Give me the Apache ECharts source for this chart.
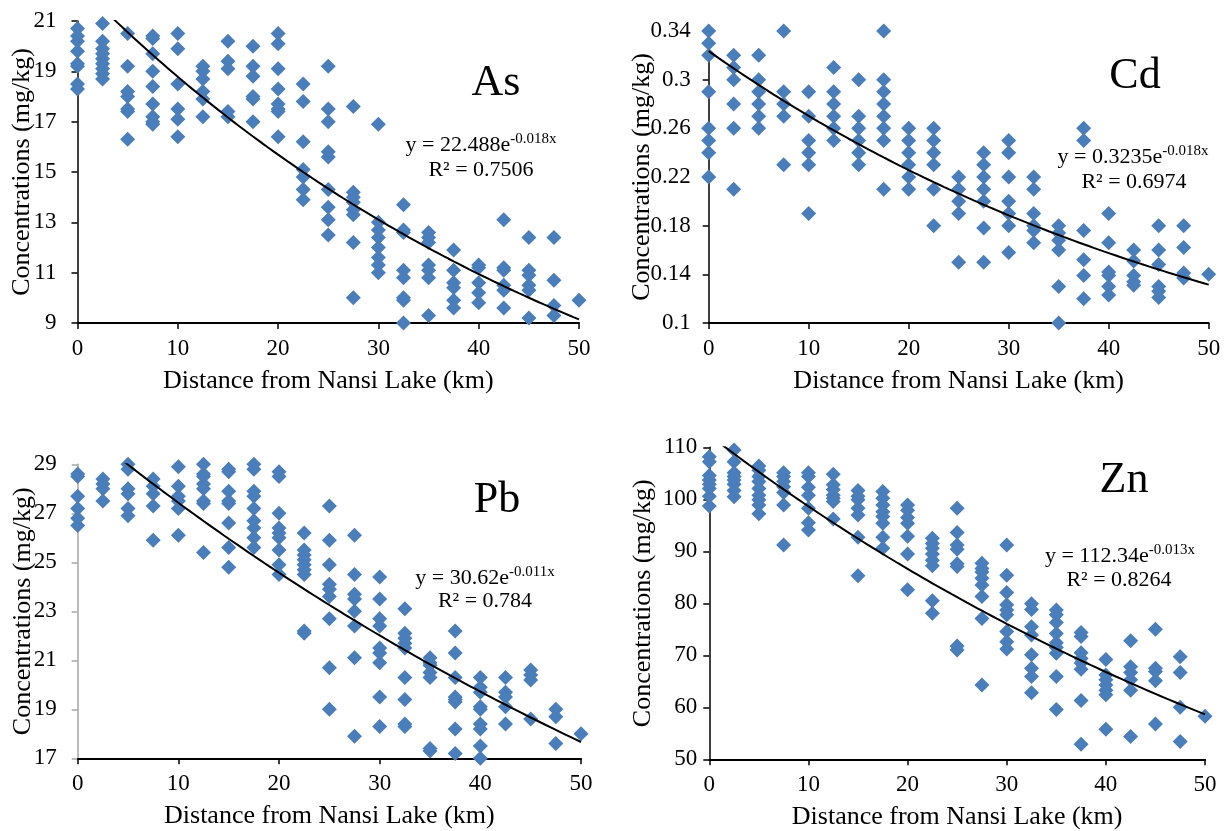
<!DOCTYPE html>
<html>
<head>
<meta charset="utf-8">
<script src="https://cdn.jsdelivr.net/npm/echarts@6/dist/echarts.min.js"></script>
<style>
html,body{margin:0;padding:0;background:#fff;}
#c{width:1229px;height:831px;}
</style>
</head>
<body>
<div id="c"></div>
<script>
// ---- data ----
const distances = [0, 2.5, 5, 7.5, 10, 12.5, 15, 17.5, 20, 22.5, 25, 27.5, 30, 32.5, 35, 37.5, 40, 42.5, 45, 47.5, 50];
const xTicks = [0, 10, 20, 30, 40, 50];

const asVals = [
 [20.7, 20.4, 20.2, 19.8, 19.3, 19.2, 18.5, 18.3],
 [20.9, 20.2, 19.9, 19.7, 19.5, 19.3, 19.1, 18.9, 18.7],
 [20.5, 19.2, 18.2, 18.0, 17.5, 17.4, 16.3],
 [20.4, 20.3, 19.7, 19.0, 18.4, 17.7, 17.2, 17.0, 16.9],
 [20.5, 19.9, 18.5, 17.5, 17.1, 16.4],
 [19.2, 19.0, 18.7, 18.2, 17.9, 17.2],
 [20.2, 19.4, 19.1, 17.4, 17.2],
 [20.0, 19.2, 18.8, 18.0, 17.9, 17.0],
 [20.5, 20.1, 19.1, 18.3, 17.7, 17.5, 17.4, 16.4],
 [18.5, 17.8, 16.2, 15.1, 14.8, 14.3, 13.9],
 [19.2, 17.5, 17.0, 15.8, 15.6, 14.3, 13.6, 13.1, 12.5],
 [17.6, 14.2, 14.0, 13.8, 13.5, 13.3, 12.2, 10.0],
 [16.9, 13.0, 12.7, 12.4, 12.0, 11.6, 11.3, 11.0],
 [13.7, 12.7, 12.6, 11.1, 10.8, 10.0, 9.9, 9.0],
 [12.6, 12.4, 12.2, 11.3, 11.1, 10.8, 9.3],
 [11.9, 11.1, 10.6, 10.4, 9.9, 9.6],
 [11.3, 11.2, 10.6, 10.2, 9.8],
 [13.1, 11.2, 11.1, 10.5, 10.3, 9.6],
 [12.4, 11.1, 10.9, 10.5, 10.3, 9.2],
 [12.4, 10.7, 9.7, 9.3],
 [9.9]
];
const cdVals = [
 [0.34, 0.33, 0.32, 0.29, 0.26, 0.25, 0.24, 0.22],
 [0.32, 0.31, 0.30, 0.28, 0.26, 0.21],
 [0.32, 0.30, 0.29, 0.28, 0.27, 0.26],
 [0.34, 0.29, 0.28, 0.27, 0.23],
 [0.29, 0.27, 0.25, 0.24, 0.23, 0.19],
 [0.31, 0.29, 0.28, 0.27, 0.26, 0.25],
 [0.30, 0.27, 0.26, 0.25, 0.24, 0.23],
 [0.34, 0.30, 0.29, 0.28, 0.27, 0.26, 0.25, 0.21],
 [0.26, 0.25, 0.24, 0.23, 0.22, 0.21],
 [0.26, 0.25, 0.24, 0.23, 0.21, 0.18],
 [0.22, 0.21, 0.20, 0.19, 0.15],
 [0.24, 0.23, 0.22, 0.21, 0.20, 0.178, 0.15],
 [0.25, 0.24, 0.22, 0.20, 0.19, 0.18, 0.158],
 [0.22, 0.21, 0.19, 0.18, 0.176, 0.166],
 [0.18, 0.174, 0.168, 0.16, 0.13, 0.10],
 [0.26, 0.25, 0.176, 0.152, 0.139, 0.12],
 [0.19, 0.166, 0.142, 0.139, 0.13, 0.123],
 [0.16, 0.151, 0.139, 0.134, 0.131],
 [0.18, 0.16, 0.148, 0.13, 0.126, 0.121],
 [0.18, 0.162, 0.141, 0.137],
 [0.14]
];
const pbVals = [
 [28.6, 28.5, 27.7, 27.2, 26.8, 26.5],
 [28.4, 28.2, 28.0, 27.5],
 [29.0, 28.8, 28.0, 27.8, 27.2, 26.9],
 [28.4, 28.1, 27.8, 27.3, 25.9],
 [28.9, 28.1, 27.7, 27.5, 27.2, 26.1],
 [29.0, 28.6, 28.5, 28.2, 28.0, 27.5, 27.4, 25.4],
 [28.8, 28.7, 27.9, 27.5, 27.4, 26.6, 25.6, 24.8],
 [29.0, 28.8, 27.9, 27.7, 27.2, 26.7, 26.4, 26.0, 25.6],
 [28.7, 28.5, 27.0, 26.4, 26.2, 26.0, 25.5, 24.9, 24.5],
 [26.2, 25.5, 25.3, 25.1, 24.9, 24.7, 24.5, 22.2, 22.1],
 [27.3, 25.9, 24.9, 24.1, 23.9, 23.6, 22.7, 20.7, 19.0],
 [26.1, 24.5, 23.7, 23.5, 23.0, 22.4, 21.1, 17.9],
 [24.4, 23.5, 22.7, 22.4, 21.5, 21.3, 20.9, 19.5, 18.3],
 [23.1, 22.1, 21.9, 21.7, 21.5, 20.3, 19.4, 18.4, 18.3],
 [21.1, 20.9, 20.8, 20.5, 20.3, 17.4, 17.3],
 [22.2, 21.3, 20.3, 19.5, 19.4, 19.3, 18.2, 17.2],
 [20.3, 19.9, 19.7, 19.1, 19.0, 18.4, 18.2, 17.5, 17.0],
 [20.3, 19.7, 19.5, 19.1, 18.4],
 [20.6, 20.4, 20.2, 18.6],
 [19.0, 18.7, 17.6],
 [18.0]
];
const znVals = [
 [108.2, 107.2, 104.6, 103.7, 102.9, 102.1, 100.6, 98.7],
 [109.5, 107.2, 105.1, 104.4, 103.7, 102.9, 101.7, 100.5],
 [106.4, 105.6, 104.4, 103.4, 102.1, 100.8, 99.9, 98.9, 97.2],
 [105.1, 104.4, 103.4, 102.4, 101.3, 98.9, 91.2],
 [105.1, 104.4, 102.3, 100.8, 98.3, 95.5, 94.1],
 [104.8, 102.8, 101.9, 100.8, 100.2, 99.6, 96.2],
 [101.7, 100.6, 99.9, 98.3, 97.0, 92.7, 85.3],
 [101.5, 100.2, 98.9, 97.6, 96.7, 95.4, 92.7, 90.6],
 [98.9, 97.9, 96.5, 95.4, 92.9, 89.5, 82.6],
 [92.5, 91.5, 90.6, 89.5, 88.3, 87.2, 80.5, 78.1],
 [98.3, 93.6, 91.2, 90.4, 87.6, 87.1, 71.8, 71.0],
 [87.7, 86.7, 86.0, 84.8, 83.5, 81.3, 77.1, 64.3],
 [91.2, 85.4, 82.1, 79.7, 78.7, 77.8, 74.6, 72.6, 71.2],
 [79.9, 78.8, 75.5, 73.9, 70.1, 67.5, 65.9, 62.8],
 [78.7, 77.8, 76.3, 74.2, 72.4, 71.5, 70.4, 65.9, 59.6],
 [74.4, 73.6, 70.5, 69.4, 68.5, 67.3, 61.3, 52.9],
 [69.2, 66.2, 65.3, 64.3, 63.3, 62.4, 55.8],
 [72.8, 67.8, 66.7, 65.3, 63.3, 54.4],
 [75.0, 67.5, 66.9, 65.1, 56.8],
 [69.7, 66.7, 60.0, 53.4],
 [58.3]
];

// y tick labels
const asTicks = [9, 11, 13, 15, 17, 19, 21];
const cdTicks = [0.1, 0.14, 0.18, 0.22, 0.26, 0.3, 0.34];
const pbTicks = [17, 19, 21, 23, 25, 27, 29];
const znTicks = [50, 60, 70, 80, 90, 100, 110];

// exponential trendline coefficients (a, b) of y = a*e^(b*x), and R²
const asFit = [22.488, -0.018];
const cdFit = [0.3235, -0.018];
const pbFit = [30.62, -0.011];
const znFit = [112.34, -0.013];
const panelNames = ['As', 'Cd', 'Pb', 'Zn'];
const eqMain = ['y = 22.488e', 'y = 0.3235e', 'y = 30.62e', 'y = 112.34e'];
const eqExp = ['-0.018x', '-0.018x', '-0.011x', '-0.013x'];
const r2Text = ['R² = 0.7506', 'R² = 0.6974', 'R² = 0.784', 'R² = 0.8264'];

// ---- layout/styles ----
const FONT = '"Liberation Serif", "Times New Roman", serif';
const panels = [
  {vals: asVals, ticks: asTicks, fit: asFit, grid: {left: 77.5, top: 21, width: 501.5, height: 302}, yColor: '#000', labelMargin: 21, nameGap: 42,
   title: [496, 83], eq: [481, 145], r2: [481, 170]},
  {vals: cdVals, ticks: cdTicks, fit: cdFit, grid: {left: 708.7, top: 31, width: 500, height: 292}, yColor: '#000', labelMargin: 18, nameGap: 54,
   title: [1135, 76], eq: [1133, 157], r2: [1134, 182]},
  {vals: pbVals, ticks: pbTicks, fit: pbFit, grid: {left: 77.7, top: 464.3, width: 503.3, height: 294}, yColor: '#a6a6a6', labelMargin: 21, nameGap: 42,
   title: [497, 500], eq: [485, 578], r2: [485, 601]},
  {vals: znVals, ticks: znTicks, fit: znFit, grid: {left: 709.3, top: 447.3, width: 495.7, height: 312}, yColor: '#000', labelMargin: 12, nameGap: 53,
   title: [1124, 480], eq: [1120, 556], r2: [1119, 580]}
];

const grids = [], xAxes = [], yAxes = [], series = [], graphics = [];
panels.forEach((p, i) => {
  grids.push(Object.assign({outerBoundsMode: 'none', containLabel: false}, p.grid));
  xAxes.push({
    type: 'value', gridIndex: i, min: 0, max: 50, interval: 10,
    name: 'Distance from Nansi Lake (km)', nameLocation: 'middle', nameGap: 45, nameMoveOverlap: false,
    nameTextStyle: {fontFamily: FONT, fontSize: 26, color: '#000'},
    axisLine: {show: true, onZero: false, lineStyle: {color: '#000', width: 2}},
    axisTick: {show: true, inside: false, length: 6, lineStyle: {color: '#000', width: 1.5}},
    axisLabel: {fontFamily: FONT, fontSize: 23, color: '#000', margin: 14},
    splitLine: {show: false}
  });
  const lo = p.ticks[0], hi = p.ticks[p.ticks.length - 1];
  yAxes.push({
    type: 'value', gridIndex: i, min: lo, max: hi,
    name: 'Concentrations (mg/kg)', nameLocation: 'middle', nameGap: p.nameGap, nameMoveOverlap: false,
    nameTextStyle: {fontFamily: FONT, fontSize: 26, color: '#000'},
    axisLine: {show: true, onZero: false, lineStyle: {color: p.yColor, width: 1.5}},
    axisTick: {show: true, inside: false, length: 6, customValues: p.ticks, lineStyle: {color: p.yColor, width: 1.5}},
    axisLabel: {fontFamily: FONT, fontSize: 23, color: '#000', margin: p.labelMargin, customValues: p.ticks,
      formatter: v => String(v)},
    splitLine: {show: false}
  });
  const pts = [];
  distances.forEach((d, k) => p.vals[k].forEach(v => pts.push([d, v])));
  series.push({
    type: 'scatter', xAxisIndex: i, yAxisIndex: i, data: pts,
    symbol: 'diamond', symbolSize: 15, itemStyle: {color: '#4a7ebb', opacity: 1},
    z: 3, silent: true
  });
  const line = [];
  for (let x = 0; x <= 50.0001; x += 0.5) line.push([x, p.fit[0] * Math.exp(p.fit[1] * x)]);
  series.push({
    type: 'line', xAxisIndex: i, yAxisIndex: i, data: line, showSymbol: false, symbol: 'none',
    smooth: false, clip: true, lineStyle: {color: '#000', width: 2}, z: 4, silent: true
  });
  graphics.push({
    type: 'text', x: p.title[0], y: p.title[1], z: 10,
    style: {text: panelNames[i], font: '44px ' + FONT, fill: '#000', align: 'center', verticalAlign: 'middle'}
  });
  graphics.push({
    type: 'text', x: p.eq[0], y: p.eq[1], z: 10,
    style: {
      text: '{m|' + eqMain[i] + '}{s|' + eqExp[i] + '}', align: 'center', verticalAlign: 'middle',
      rich: {
        m: {fontFamily: FONT, fontSize: 22, lineHeight: 26, fill: '#000', color: '#000'},
        s: {fontFamily: FONT, fontSize: 15, lineHeight: 15, verticalAlign: 'top', fill: '#000', color: '#000'}
      }
    }
  });
  graphics.push({
    type: 'text', x: p.r2[0], y: p.r2[1], z: 10,
    style: {text: r2Text[i], font: '22px ' + FONT, fill: '#000', align: 'center', verticalAlign: 'middle'}
  });
});

const chart = echarts.init(document.getElementById('c'), null, {renderer: 'canvas'});
chart.setOption({
  backgroundColor: '#fff',
  animation: false,
  grid: grids, xAxis: xAxes, yAxis: yAxes, series: series,
  graphic: graphics
});
</script>
</body>
</html>
